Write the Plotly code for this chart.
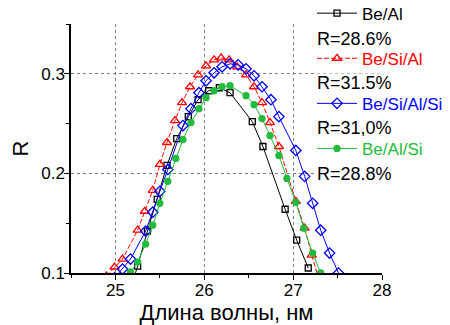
import plotly.graph_objects as go

# Data
be_al_x = [25.14, 25.25, 25.36, 25.47, 25.58, 25.69, 25.82, 25.93, 26.05, 26.17, 26.29, 26.54, 26.66, 26.91, 27.04, 27.17]
be_al_y = [0.075, 0.107, 0.142, 0.174, 0.208, 0.235, 0.257, 0.274, 0.283, 0.286, 0.281, 0.252, 0.227, 0.164, 0.133, 0.105]

be_si_al_x = [24.90, 24.99, 25.08, 25.25, 25.33, 25.42, 25.50, 25.58, 25.67, 25.75, 25.84, 25.93, 26.02, 26.11, 26.19, 26.28, 26.37, 26.47, 26.56, 26.65, 26.74, 26.84, 27.03, 27.13, 27.21, 27.30]
be_si_al_y = [0.097, 0.106, 0.114, 0.143, 0.162, 0.183, 0.209, 0.231, 0.253, 0.271, 0.287, 0.299, 0.308, 0.314, 0.316, 0.314, 0.307, 0.299, 0.287, 0.271, 0.251, 0.227, 0.172, 0.145, 0.118, 0.090]

be_si_al_si_x = [24.99, 25.08, 25.17, 25.34, 25.42, 25.50, 25.59, 25.76, 25.85, 25.94, 26.02, 26.11, 26.20, 26.29, 26.38, 26.47, 26.56, 26.65, 26.75, 26.84, 27.03, 27.13, 27.22, 27.31, 27.41, 27.51]
be_si_al_si_y = [0.095, 0.104, 0.114, 0.142, 0.161, 0.182, 0.204, 0.248, 0.265, 0.281, 0.293, 0.301, 0.307, 0.310, 0.309, 0.305, 0.298, 0.287, 0.274, 0.257, 0.223, 0.197, 0.170, 0.143, 0.120, 0.100]

be_al_si_x = [25.17, 25.25, 25.34, 25.42, 25.50, 25.59, 25.68, 25.76, 25.85, 25.94, 26.02, 26.11, 26.20, 26.29, 26.47, 26.56, 26.65, 26.74, 26.84, 26.93, 27.03, 27.12, 27.22, 27.31]
be_al_si_y = [0.101, 0.111, 0.129, 0.148, 0.170, 0.192, 0.215, 0.234, 0.251, 0.265, 0.276, 0.283, 0.287, 0.288, 0.278, 0.269, 0.255, 0.238, 0.218, 0.195, 0.171, 0.145, 0.120, 0.100]

names = ["Be/Al", "Be/Si/Al", "Be/Si/Al/Si", "Be/Al/Si"]
r_labels = ["R=28.6%", "R=31.5%", "R=31,0%", "R=28.8%"]
colors = ["#000000", "#FF0000", "#0000FF", "#22BB3C"]

FONT = "Liberation Sans, Arial, sans-serif"

fig = go.Figure()
series = [
    (be_al_x, be_al_y, "square-open", 6, "solid"),
    (be_si_al_x, be_si_al_y, "triangle-up-open", 8, "5px,2px"),
    (be_si_al_si_x, be_si_al_si_y, "diamond-open", 8, "solid"),
    (be_al_si_x, be_al_si_y, "circle", 6, "solid"),
]
for i, (xs, ys, sym, sz, dash) in enumerate(series):
    fig.add_trace(go.Scatter(
        x=xs, y=ys, mode="lines+markers",
        name=f'<span style="color:{colors[i]}">{names[i]}</span>',
        legendgroup=f"g{i}",
        line=dict(color=colors[i], width=1, dash=dash),
        marker=dict(symbol=sym, size=sz, color=colors[i],
                    line=dict(color=colors[i], width=1.3)),
    ))

# R annotations under each legend entry (page pixels of reference, plot area 71..382 x 24..273)
r_py = [38, 83, 127, 173]
plot_top, plot_bottom = 24, 273
for lab, py in zip(r_labels, r_py):
    fig.add_annotation(
        x=(316 - 71) / 311, y=(plot_bottom - py) / (plot_bottom - plot_top),
        xref="paper", yref="paper", xanchor="left", yanchor="middle",
        text=lab, showarrow=False, bgcolor="white", height=17,
        font=dict(family=FONT, size=18, color="black"), borderpad=0,
    )

# page body has an 8px margin: the figure is offset by (8, 8)
fig.update_layout(
    width=442, height=317,
    margin=dict(l=63, r=68, t=16, b=52, autoexpand=False),
    paper_bgcolor="white", plot_bgcolor="white",
    font=dict(family=FONT, size=17, color="black"),
    legend=dict(
        x=0.775, y=1.114, xanchor="left", yanchor="top",
        bgcolor="rgba(255,255,255,0)", borderwidth=0,
        font=dict(family=FONT, size=17),
        tracegroupgap=20, itemwidth=40, maxheight=400,
    ),
    showlegend=True,
)
fig.update_xaxes(
    range=[24.5, 28], tickvals=[25, 26, 27, 28],
    showline=True, linecolor="black", linewidth=1.5,
    ticks="outside", ticklen=5, tickwidth=1.2, tickcolor="black",
    minor=dict(dtick=0.5, tick0=24.5, ticks="outside", ticklen=3, tickcolor="black", showgrid=False),
    showgrid=True, gridcolor="#808080", griddash="dot", gridwidth=1,
    zeroline=False, tickfont=dict(size=17), automargin=False, ticklabelstandoff=-4,
    title=dict(text="Длина волны, нм", font=dict(size=22), standoff=10),
)
fig.update_yaxes(
    range=[0.1, 0.35], tickvals=[0.1, 0.2, 0.3], ticktext=["0.1", "0.2", "0.3"],
    showline=True, linecolor="black", linewidth=1.5,
    ticks="outside", ticklen=5, tickwidth=1.2, tickcolor="black",
    minor=dict(tickvals=[0.15, 0.25, 0.35], ticks="outside", ticklen=3, tickcolor="black", showgrid=False),
    showgrid=True, gridcolor="#808080", griddash="dot", gridwidth=1,
    zeroline=False, tickfont=dict(size=17), automargin=False, ticklabelstandoff=-4,
    title=dict(text="R", font=dict(size=22), standoff=17),
)

fig.write_html("out.html")
